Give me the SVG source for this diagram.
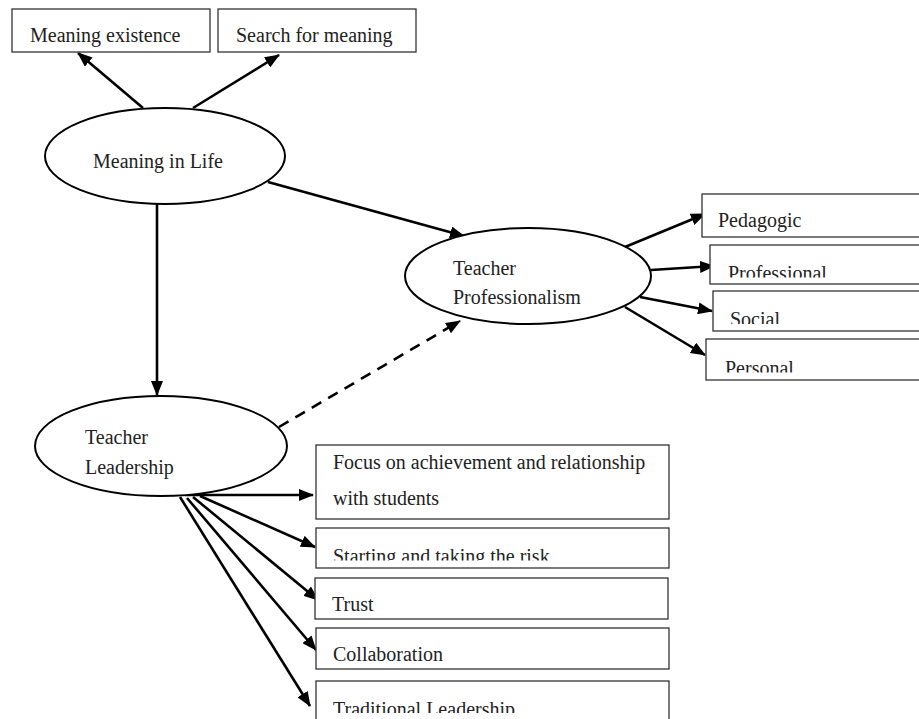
<svg xmlns="http://www.w3.org/2000/svg" width="919" height="719" viewBox="0 0 919 719">
<style>
.box{fill:#fff;stroke:#333;stroke-width:1.3}
.ell{fill:#fff;stroke:#000;stroke-width:2}
.t{font-family:"Liberation Serif","Times New Roman",serif;font-size:20px;fill:#222}
.c{stroke:#000;stroke-width:2.6;fill:none}
.d{stroke-dasharray:11,8}
</style>
<defs>
<marker id="ah" viewBox="0 0 15 12" refX="14" refY="6" markerWidth="15" markerHeight="12" markerUnits="userSpaceOnUse" orient="auto">
<path d="M0,0 L15,6 L0,12 z" fill="#000"/>
</marker>
<clipPath id="cProf"><rect x="700" y="240" width="219" height="37.5"/></clipPath>
<clipPath id="cSoc"><rect x="700" y="288" width="219" height="36"/></clipPath>
<clipPath id="cPers"><rect x="700" y="338" width="219" height="34.5"/></clipPath>
<clipPath id="cStart"><rect x="310" y="526" width="370" height="34.5"/></clipPath>
<clipPath id="cTrad"><rect x="310" y="677" width="370" height="36"/></clipPath>
</defs>

<g id="connectors">
<line class="c" x1="143" y1="108" x2="78" y2="53" marker-end="url(#ah)"/>
<line class="c" x1="193" y1="108" x2="279" y2="55" marker-end="url(#ah)"/>
<line class="c" x1="268" y1="182" x2="464" y2="236" marker-end="url(#ah)"/>
<line class="c" x1="157" y1="202" x2="157" y2="395" marker-end="url(#ah)"/>
<line class="c d" x1="279" y1="427" x2="460" y2="321" marker-end="url(#ah)"/>
<line class="c" x1="625" y1="247" x2="705" y2="214" marker-end="url(#ah)"/>
<line class="c" x1="651" y1="270" x2="714" y2="266" marker-end="url(#ah)"/>
<line class="c" x1="640" y1="297" x2="712" y2="311" marker-end="url(#ah)"/>
<line class="c" x1="625" y1="307" x2="705" y2="355" marker-end="url(#ah)"/>
<line class="c" x1="185" y1="495" x2="313" y2="495" marker-end="url(#ah)"/>
<line class="c" x1="200" y1="496" x2="315" y2="547" marker-end="url(#ah)"/>
<line class="c" x1="193" y1="497" x2="318" y2="600" marker-end="url(#ah)"/>
<line class="c" x1="187" y1="498" x2="316" y2="650" marker-end="url(#ah)"/>
<line class="c" x1="180" y1="497" x2="310" y2="706" marker-end="url(#ah)"/>
</g>

<g id="meaning-existence">
<rect class="box" x="12" y="9" width="198" height="43"/>
<text class="t" x="30" y="42">Meaning existence</text>
</g>
<g id="search-for-meaning">
<rect class="box" x="218" y="9" width="198" height="43"/>
<text class="t" x="236" y="42">Search for meaning</text>
</g>
<g id="meaning-in-life">
<ellipse class="ell" cx="165" cy="156" rx="120" ry="48"/>
<text class="t" x="93" y="168">Meaning in Life</text>
</g>
<g id="teacher-professionalism">
<ellipse class="ell" cx="528" cy="276" rx="123" ry="48"/>
<text class="t" x="453" y="275">Teacher</text>
<text class="t" x="453" y="304">Professionalism</text>
</g>
<g id="teacher-leadership">
<ellipse class="ell" cx="161" cy="446" rx="126" ry="50"/>
<text class="t" x="85" y="444">Teacher</text>
<text class="t" x="85" y="474">Leadership</text>
</g>
<g id="pedagogic">
<rect class="box" x="702" y="194" width="230" height="43"/>
<text class="t" x="718" y="227">Pedagogic</text>
</g>
<g id="professional">
<rect class="box" x="710" y="245" width="230" height="39"/>
<text class="t" x="728" y="280" clip-path="url(#cProf)">Professional</text>
</g>
<g id="social">
<rect class="box" x="713" y="291" width="230" height="40"/>
<text class="t" x="730" y="326" clip-path="url(#cSoc)">Social</text>
</g>
<g id="personal">
<rect class="box" x="706" y="339" width="230" height="41"/>
<text class="t" x="725" y="375" clip-path="url(#cPers)">Personal</text>
</g>
<g id="focus">
<rect class="box" x="316" y="445" width="353" height="74"/>
<text class="t" x="333" y="469">Focus on achievement and relationship</text>
<text class="t" x="333" y="505">with students</text>
</g>
<g id="starting">
<rect class="box" x="316" y="528" width="353" height="40"/>
<text class="t" x="333" y="563" clip-path="url(#cStart)">Starting and taking the risk</text>
</g>
<g id="trust">
<rect class="box" x="315" y="578" width="353" height="41"/>
<text class="t" x="332" y="611">Trust</text>
</g>
<g id="collaboration">
<rect class="box" x="316" y="628" width="353" height="41"/>
<text class="t" x="333" y="661">Collaboration</text>
</g>
<g id="traditional">
<rect class="box" x="316" y="681" width="353" height="60"/>
<text class="t" x="333" y="716" clip-path="url(#cTrad)">Traditional Leadership</text>
</g>
</svg>
